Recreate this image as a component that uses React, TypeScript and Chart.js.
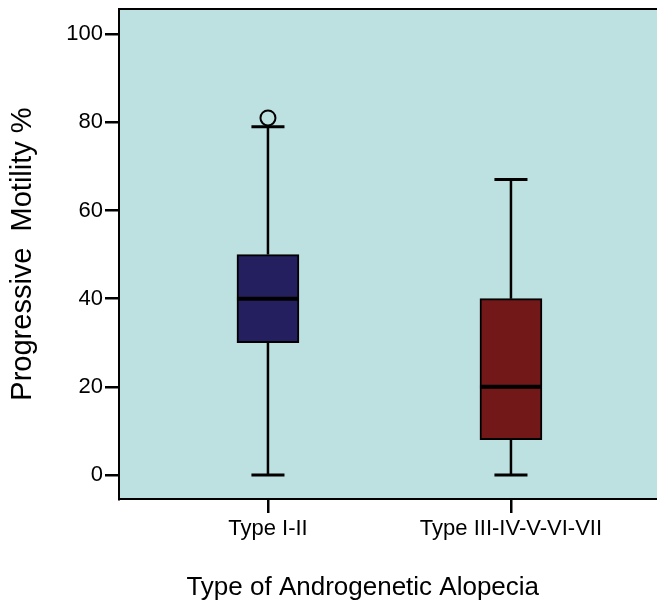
import React, { useEffect, useRef } from "react";
import { Chart, registerables } from "chart.js";

Chart.register(...registerables);

const categories = ["Type I-II", "Type III-IV-V-VI-VII"];
const categoryPositions = [1, 2];
const whiskerLow = [0, 0];
const q1 = [30, 8];
const median = [40, 20];
const q3 = [50, 40];
const whiskerHigh = [79, 67];
const outliers = [[81], []];
const yTicks = [0, 20, 40, 60, 80, 100];
const boxColors = ["#241f5f", "#731819"];

const FONT = "'Liberation Sans', Arial, Helvetica, sans-serif";

export default function App() {
  const ref = useRef<HTMLCanvasElement>(null);

  useEffect(() => {
    if (!ref.current) return;

    const boxPlugin = {
      id: "boxExtras",
      beforeDraw(chart: any) {
        const { ctx, chartArea } = chart;
        ctx.save();
        ctx.fillStyle = "#bde0e1";
        ctx.fillRect(chartArea.left, chartArea.top, chartArea.right - chartArea.left, chartArea.bottom - chartArea.top);
        ctx.restore();
      },
      beforeDatasetsDraw(chart: any) {
        const { ctx } = chart;
        const xs = chart.scales.x;
        const ys = chart.scales.y;
        ctx.save();
        ctx.strokeStyle = "#000";
        ctx.lineCap = "butt";
        categoryPositions.forEach((p, i) => {
          const cx = xs.getPixelForValue(p);
          const capHalf = xs.getPixelForValue(p + 0.068) - cx;
          ctx.lineWidth = 2.5;
          ctx.beginPath();
          ctx.moveTo(cx, ys.getPixelForValue(whiskerLow[i]));
          ctx.lineTo(cx, ys.getPixelForValue(q1[i]));
          ctx.moveTo(cx, ys.getPixelForValue(q3[i]));
          ctx.lineTo(cx, ys.getPixelForValue(whiskerHigh[i]));
          ctx.stroke();
          ctx.lineWidth = 3;
          ctx.beginPath();
          ctx.moveTo(cx - capHalf, ys.getPixelForValue(whiskerLow[i]));
          ctx.lineTo(cx + capHalf, ys.getPixelForValue(whiskerLow[i]));
          ctx.moveTo(cx - capHalf, ys.getPixelForValue(whiskerHigh[i]));
          ctx.lineTo(cx + capHalf, ys.getPixelForValue(whiskerHigh[i]));
          ctx.stroke();
        });
        ctx.restore();
      },
      afterDatasetsDraw(chart: any) {
        const { ctx, chartArea } = chart;
        const xs = chart.scales.x;
        const ys = chart.scales.y;
        const meta = chart.getDatasetMeta(0);
        ctx.save();
        ctx.strokeStyle = "#000";
        ctx.lineWidth = 4;
        categoryPositions.forEach((p, i) => {
          const bar: any = meta.data[i];
          const half = bar.width / 2;
          const cx = xs.getPixelForValue(p);
          const my = ys.getPixelForValue(median[i]);
          ctx.beginPath();
          ctx.moveTo(cx - half, my);
          ctx.lineTo(cx + half, my);
          ctx.stroke();
        });
        ctx.lineWidth = 2;
        ctx.beginPath();
        ctx.moveTo(chartArea.left, chartArea.top);
        ctx.lineTo(chartArea.right, chartArea.top);
        ctx.stroke();
        ctx.restore();
      },
    };

    const outlierPoints: { x: number; y: number }[] = [];
    outliers.forEach((arr, i) => arr.forEach((v) => outlierPoints.push({ x: categoryPositions[i], y: v })));

    const chart = new Chart(ref.current, {
      type: "bar",
      data: {
        datasets: [
          {
            type: "bar",
            data: categoryPositions.map((p, i) => ({ x: p, y: [q1[i], q3[i]] })) as any,
            backgroundColor: boxColors,
            borderColor: "#000",
            borderWidth: 2,
            borderSkipped: false,
            barThickness: 62,
          } as any,
          {
            type: "scatter",
            data: outlierPoints as any,
            pointRadius: 7.5,
            pointBorderWidth: 2,
            pointBorderColor: "#000",
            pointBackgroundColor: "rgba(0,0,0,0)",
          } as any,
        ],
      },
      options: {
        responsive: false,
        animation: false,
        devicePixelRatio: 1,
        layout: { autoPadding: false, padding: { top: 9, left: 0, right: 0, bottom: 0 } },
        plugins: { legend: { display: false }, tooltip: { enabled: false } },
        scales: {
          x: {
            type: "linear",
            offset: false,
            min: 0.387,
            max: 2.601,
            afterBuildTicks: (s: any) => {
              s.ticks = categoryPositions.map((v) => ({ value: v }));
            },
            afterFit: (s: any) => {
              s.height = 104;
              s.paddingLeft = 0;
              s.paddingRight = 0;
            },
            grid: {
              display: true,
              offset: false,
              drawOnChartArea: false,
              drawTicks: true,
              tickLength: 14,
              color: "#000",
              lineWidth: 2.5,
            },
            border: { display: true, color: "#000", width: 2 },
            ticks: {
              padding: 3,
              color: "#000",
              font: { family: FONT, size: 22 },
              maxRotation: 0,
              autoSkip: false,
              callback: (v: any) => categories[categoryPositions.indexOf(Number(v))] ?? "",
            },
            title: {
              display: true,
              text: "Type of Androgenetic Alopecia       ",
              color: "#000",
              font: { family: FONT, size: 26 },
              padding: { top: 0, bottom: 0 },
            },
          },
          y: {
            type: "linear",
            min: -5.44,
            max: 105.7,
            afterBuildTicks: (s: any) => {
              s.ticks = yTicks.map((v) => ({ value: v }));
            },
            afterFit: (s: any) => {
              s.width = 119;
              s.paddingTop = 0;
              s.paddingBottom = 0;
            },
            grid: {
              display: true,
              drawOnChartArea: false,
              drawTicks: true,
              tickLength: 14,
              color: "#000",
              lineWidth: 2.5,
            },
            border: { display: true, color: "#000", width: 2 },
            ticks: {
              padding: 2,
              color: "#000",
              font: { family: FONT, size: 22 },
            },
            title: {
              display: true,
              text: "Progressive  Motility %",
              color: "#000",
              font: { family: FONT, size: 29 },
              padding: { top: 6, bottom: 0 },
            },
          },
        },
      },
      plugins: [boxPlugin],
    });
    return () => chart.destroy();
  }, []);

  return (
    <div style={{ position: "absolute", left: 0, top: 0, width: 657, height: 603, background: "#fff" }}>
      <canvas ref={ref} width={657} height={603} />
    </div>
  );
}
